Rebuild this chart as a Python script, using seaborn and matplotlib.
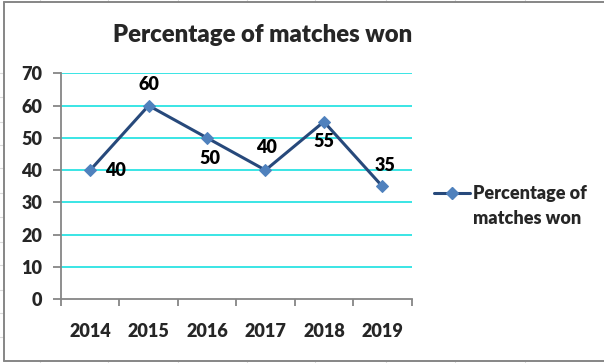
import matplotlib
matplotlib.use("Agg")
import matplotlib.pyplot as plt
import seaborn as sns
import pandas as pd
from matplotlib.lines import Line2D

years = ["2014", "2015", "2016", "2017", "2018", "2019"]
won = [40, 60, 50, 40, 55, 35]
# where each value label sits relative to its point (pixels)
label_offsets = [(25, 0), (0, 21), (3, -21), (1, 23), (0, -20), (3, 21)]
series_line1 = "Percentage of"
series_line2 = "matches won"

line_color = "#27497B"
marker_color = "#4F81BD"
grid_color = "#2BE3E3"
axis_color = "#868686"

sns.set_style("white")
plt.rcParams["font.family"] = ["Lato", "DejaVu Sans"]
plt.rcParams["font.weight"] = "heavy"
FW = "heavy"
FS = 13

W, H = 604, 363
fig = plt.figure(figsize=(W / 100, H / 100), dpi=100)
ax = fig.add_axes([61 / W, 1 - 299.3 / H, (411.5 - 61) / W, (299.3 - 73.3) / H])

df = pd.DataFrame({"x": range(len(years)), "won": won})
sns.lineplot(data=df, x="x", y="won", ax=ax, color=line_color, linewidth=2.2,
             marker="D", markersize=6.5, markerfacecolor=marker_color,
             markeredgecolor=marker_color, zorder=3)

for i, (v, off) in enumerate(zip(won, label_offsets)):
    ax.annotate(str(v), (i, v), xytext=off, textcoords="offset pixels",
                ha="center", va="center", fontsize=FS, fontweight=FW,
                color="black")

ax.set_xlim(-0.5, len(years) - 0.5)
ax.set_ylim(0, 70)
ax.set_yticks(range(0, 71, 10))
ax.set_xticks([i - 0.5 for i in range(len(years) + 1)])
ax.set_xticklabels([])
ax.set_xticks(range(len(years)), minor=True)
ax.set_xticklabels(years, minor=True)
ax.set_xlabel("")
ax.set_ylabel("")

for y in range(10, 71, 10):
    ax.axhline(y, color=grid_color, linewidth=1.3, zorder=1)

for s in ["top", "right"]:
    ax.spines[s].set_visible(False)
for s in ["left", "bottom"]:
    ax.spines[s].set_color(axis_color)
    ax.spines[s].set_linewidth(1.3)

ax.tick_params(axis="y", which="major", length=5.5, width=1.3, color=axis_color,
               direction="out", left=True, pad=8, labelsize=FS)
ax.tick_params(axis="x", which="major", length=5, width=1.3, color=axis_color,
               direction="out", bottom=True)
ax.tick_params(axis="x", which="minor", length=0, pad=17, labelsize=FS)
for lab in ax.get_yticklabels() + ax.get_xticklabels(minor=True):
    lab.set_fontweight(FW)

fig.text(263 / W, 1 - 35 / H, "Percentage of matches won", ha="center",
         va="center", fontsize=17.2, fontweight=FW)

handle = Line2D([], [], color=line_color, linewidth=2.2, marker="D",
                markersize=6.5, markerfacecolor=marker_color,
                markeredgecolor=marker_color)
fig.legend([handle], [series_line1], loc="center left",
           bbox_to_anchor=(434 / W, 1 - 194 / H), frameon=False,
           handlelength=2.0, handletextpad=0.15, borderaxespad=0, borderpad=0,
           prop={"size": FS, "weight": FW})
fig.text(473 / W, 1 - 218 / H, series_line2, ha="left", va="center",
         fontsize=FS, fontweight=FW)

# spreadsheet cell lines around the chart object
for yy in [73, 97, 122, 145, 168, 193, 217, 242, 265, 290, 313, 337]:
    fig.add_artist(Line2D([0, 4 / W], [1 - yy / H] * 2, color="#D9D9D9", lw=0.8))
for xx in [40, 108, 178, 247, 315, 386, 455, 525]:
    fig.add_artist(Line2D([xx / W] * 2, [1, 1 - 1 / H], color="#D9D9D9", lw=0.8))
    fig.add_artist(Line2D([xx / W] * 2, [0, 1 - 362 / H], color="#D9D9D9", lw=0.8))

# chart object border
fig.add_artist(Line2D([4 / W, 4 / W], [1 - 1.5 / H, 1 - 361 / H], color=axis_color, lw=1.4))
fig.add_artist(Line2D([4 / W, 1], [1 - 1.5 / H] * 2, color=axis_color, lw=1.4))
fig.add_artist(Line2D([4 / W, 1], [1 - 361 / H] * 2, color=axis_color, lw=1.4))

fig.savefig("out.png", dpi=100)
